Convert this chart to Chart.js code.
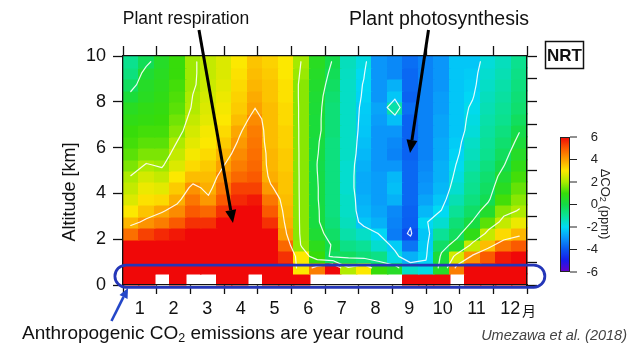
<!DOCTYPE html>
<html>
<head>
<meta charset="utf-8">
<script src="https://cdn.jsdelivr.net/npm/chart.js@4.4.1/dist/chart.umd.min.js"></script>
<style>
html,body{margin:0;padding:0;background:#ffffff;}
#wrap{width:643px;height:345px;position:relative;overflow:hidden;}
canvas{display:block;}
</style>
</head>
<body>
<div id="wrap"><canvas id="c" width="643" height="345"></canvas></div>
<script>
// ---------------- DATA ----------------
const monthLabels = ['1','2','3','4','5','6','7','8','9','10','11','12'];
const periodsPerYear = 26;          // two-week bins across 12 months
const altitudeStepKm = 0.5;         // vertical bin size
const altitudeTicks = [0,1,2,3,4,5,6,7,8,9,10];
const colorbarTicks = [6,4,2,0,-2,-4,-6];
const contourLevels = [-4,-2,0,2,4];

// ΔCO2 (ppm); one row per 0.5 km altitude bin (row 0 = 0-0.5 km surface, null = no data)
const dco2Row00 = [6,6,null,6,null,null,6,6,null,6,6,6,null,null,null,null,null,null,6,6,6,null,6,6,6,6];
const dco2Row01 = [6,6,6,6,6,6,6,6,6,6,6,3.0,4.5,6,2.1,3.0,1.0,0.5,-1.5,-1.8,0.5,4.5,6,6,6,6];
const dco2Row02 = [6,6,6,6,6,6,6,6,6,6,5.5,3.0,1.0,-0.3,-0.3,-0.6,-0.8,-1.8,-2.6,-2.1,0.2,2.5,4.2,5.0,5.8,6];
const dco2Row03 = [6,6,6,6,6,6,6,6,6,6,4.8,1.8,0.7,-0.1,-0.8,-1.0,-1.6,-2.2,-3.5,-2.2,-0.4,0.4,2.3,3.6,4.6,5.0];
const dco2Row04 = [4.7,5.3,5.6,5.8,6,6,6,6,6,6,4.05,1.7,0.3,-0.4,-1.2,-1.5,-2.05,-3.4,-4.15,-2.3,-1.0,-0.3,0.8,2.3,3.2,3.7];
const dco2Row05 = [3.7,4.2,4.5,5.0,5.5,5.5,6,6,6,5.5,3.8,1.7,0.1,-0.6,-1.4,-2.3,-2.6,-3.3,-3.85,-2.05,-1.6,-0.6,0.05,1.3,2.3,2.8];
const dco2Row06 = [3.0,3.5,3.9,4.3,5.0,4.8,5.5,6,6,5.0,3.7,1.7,0.1,-0.7,-1.5,-2.5,-2.8,-3.2,-3.8,-2.5,-1.98,-1.0,-0.4,0.4,1.7,2.05];
const dco2Row07 = [2.6,3.1,3.2,3.8,4.6,4.1,5.0,5.6,5.8,4.6,3.6,1.7,0.05,-0.7,-1.5,-2.6,-2.9,-2.6,-3.7,-2.8,-2.3,-1.3,-0.7,-0.15,1.1,1.7];
const dco2Row08 = [2.3,2.8,2.7,3.4,4.2,3.8,4.6,5.3,5.3,4.1,3.5,1.7,0.05,-0.7,-1.6,-2.7,-2.9,-2.4,-3.7,-3.0,-2.5,-1.6,-0.9,-0.35,0.6,1.4];
const dco2Row09 = [2.02,2.5,2.3,3.0,3.6,3.6,4.3,4.8,5.0,3.8,3.5,1.7,0.02,-0.7,-1.6,-2.7,-2.9,-2.5,-3.7,-3.1,-2.6,-1.8,-1.0,-0.5,0.3,1.1];
const dco2Row10 = [1.6,2.05,1.9,2.6,3.2,3.4,3.98,4.5,4.8,3.7,3.4,1.7,-0.02,-0.7,-1.6,-2.6,-3.0,-3.0,-3.7,-3.2,-2.6,-1.95,-1.2,-0.7,-0.05,0.8];
const dco2Row11 = [1.3,1.6,1.6,2.3,2.9,3.2,3.7,4.3,4.7,3.7,3.4,1.7,0.05,-0.7,-1.5,-2.5,-3.0,-3.3,-3.8,-3.3,-2.7,-2.1,-1.4,-0.9,-0.3,0.5];
const dco2Row12 = [1.1,1.3,1.3,2.02,2.7,3.0,3.4,4.1,4.6,3.6,3.3,1.7,0.1,-0.7,-1.5,-2.4,-3.0,-3.2,-3.8,-3.3,-2.7,-2.2,-1.5,-1.0,-0.5,0.2];
const dco2Row13 = [1.0,1.1,1.1,1.7,2.5,2.9,3.2,3.9,4.5,3.6,3.3,1.7,0.2,-0.6,-1.5,-2.3,-3.0,-3.0,-3.8,-3.3,-2.8,-2.3,-1.7,-1.1,-0.7,-0.05];
const dco2Row14 = [0.8,0.9,1.0,1.5,2.3,2.7,3.0,3.6,4.3,3.6,3.2,1.7,0.2,-0.6,-1.5,-2.25,-2.9,-2.4,-3.8,-3.3,-2.8,-2.3,-1.8,-1.2,-0.9,-0.3];
const dco2Row15 = [0.6,0.8,0.9,1.3,2.1,2.6,2.9,3.4,3.98,3.6,3.2,1.7,0.25,-0.6,-1.5,-2.2,-2.8,-1.2,-3.6,-3.3,-2.9,-2.3,-1.9,-1.3,-1.0,-0.5];
const dco2Row16 = [0.2,0.6,0.8,1.2,2.02,2.5,2.8,3.3,3.85,3.5,3.1,1.7,0.3,-0.5,-1.5,-2.1,-3.0,-2.3,-3.8,-3.3,-2.9,-2.3,-2.05,-1.4,-1.1,-0.6];
const dco2Row17 = [-0.3,0.5,0.7,1.1,1.9,2.4,2.7,3.2,3.7,3.5,3.1,1.7,0.4,-0.35,-1.5,-2.05,-3.0,-2.6,-3.7,-3.3,-3.0,-2.3,-2.15,-1.5,-1.2,-0.7];
const dco2Row18 = [-0.7,0.3,0.6,1.0,1.9,2.3,2.6,3.1,3.6,3.4,3.0,1.85,0.5,-0.2,-1.45,-1.95,-3.0,-3.2,-3.7,-3.3,-3.0,-2.3,-2.2,-1.6,-1.3,-0.8];
const dco2Row19 = [-0.9,-0.2,0.5,1.0,1.9,2.3,2.6,3.0,3.5,3.3,3.0,1.95,0.6,-0.05,-1.4,-1.8,-3.0,-3.2,-3.6,-3.3,-3.0,-2.3,-2.3,-1.7,-1.4,-0.9];

const dco2Rows = [dco2Row00,dco2Row01,dco2Row02,dco2Row03,dco2Row04,dco2Row05,dco2Row06,dco2Row07,dco2Row08,dco2Row09,
                  dco2Row10,dco2Row11,dco2Row12,dco2Row13,dco2Row14,dco2Row15,dco2Row16,dco2Row17,dco2Row18,dco2Row19];

// ---------------- LAYOUT / STYLE ----------------
const FONT = "'Liberation Sans', Arial, Helvetica, sans-serif";
const AREA = {left:123, right:527, top:56, bottom:285};
const periodWidth = 12 / periodsPerYear;

const colorStops = [
  [-6,[105,0,200]],[-5,[25,25,235]],[-4,[10,85,240]],[-3,[10,150,250]],[-2,[0,218,245]],
  [-1,[10,225,150]],[0,[20,220,70]],[1,[55,220,10]],[2,[170,235,0]],[3,[252,232,0]],
  [4,[252,160,0]],[5,[250,90,0]],[6,[240,8,8]]
];
function colorFor(v){
  if (v <= colorStops[0][0]) return 'rgb('+colorStops[0][1].join(',')+')';
  for (let i=1;i<colorStops.length;i++){
    if (v <= colorStops[i][0]){
      const [v0,c0]=colorStops[i-1],[v1,c1]=colorStops[i];
      const t=(v-v0)/(v1-v0);
      return 'rgb('+c0.map((c,k)=>Math.round(c+(c1[k]-c)*t)).join(',')+')';
    }
  }
  return 'rgb('+colorStops[colorStops.length-1][1].join(',')+')';
}

// cells as chart points (cell centres), values attached
const cellPoints = [];
dco2Rows.forEach((row,r)=>row.forEach((v,c)=>{
  if (v !== null) cellPoints.push({x:(c+0.5)*periodWidth, y:(r+0.5)*altitudeStepKm, v:v});
}));

// annotation geometry in data units (month, km)
const arrowRespiration = {from:[2.257,11.135], to:[3.267,2.707]};
const arrowPhotosynthesis = {from:[9.074,11.135], to:[8.525,5.764]};
const surfaceBox = {x0:-0.24, x1:12.53, y0:-0.10, y1:0.87};
const arrowSurface = {from:[-0.342,-1.572], to:[0.149,-0.131]};

function drawArrow(ctx, x0,y0,x1,y1, lw, headLen, headW, color){
  const ang = Math.atan2(y1-y0, x1-x0);
  const bx = x1 - headLen*Math.cos(ang), by = y1 - headLen*Math.sin(ang);
  ctx.save();
  ctx.strokeStyle=color; ctx.fillStyle=color; ctx.lineWidth=lw; ctx.lineCap='butt';
  ctx.beginPath(); ctx.moveTo(x0,y0); ctx.lineTo(bx,by); ctx.stroke();
  ctx.beginPath();
  ctx.moveTo(x1,y1);
  ctx.lineTo(bx + headW/2*Math.sin(ang), by - headW/2*Math.cos(ang));
  ctx.lineTo(bx - headW/2*Math.sin(ang), by + headW/2*Math.cos(ang));
  ctx.closePath(); ctx.fill();
  ctx.restore();
}

function contourSegments(level){
  const segs=[];
  const rows = dco2Rows.length, cols = periodsPerYear;
  const nx = c => (c+0.5)*periodWidth, ny = r => (r+0.5)*altitudeStepKm;
  for (let r=1;r<rows-1;r++){
    for (let c=0;c<cols-1;c++){
      const a=dco2Rows[r][c], b=dco2Rows[r][c+1], cc=dco2Rows[r+1][c+1], d=dco2Rows[r+1][c];
      if ([a,b,cc,d].some(v=>v===null)) continue;
      const pa=[nx(c),ny(r)], pb=[nx(c+1),ny(r)], pc=[nx(c+1),ny(r+1)], pd=[nx(c),ny(r+1)];
      const interp=(p,q,vp,vq)=>{const t=(level-vp)/(vq-vp);return [p[0]+(q[0]-p[0])*t,p[1]+(q[1]-p[1])*t];};
      const sa=a>=level, sb=b>=level, sc=cc>=level, sd=d>=level;
      const e={};
      if (sa!==sb) e.bottom=interp(pa,pb,a,b);
      if (sb!==sc) e.right=interp(pb,pc,b,cc);
      if (sd!==sc) e.top=interp(pd,pc,d,cc);
      if (sa!==sd) e.left=interp(pa,pd,a,d);
      const keys=Object.keys(e);
      if (keys.length===2) segs.push([e[keys[0]],e[keys[1]]]);
      else if (keys.length===4){
        const centre=(a+b+cc+d)/4>=level;
        if (sa!==centre) segs.push([e.bottom,e.left]);
        if (sb!==centre) segs.push([e.bottom,e.right]);
        if (sc!==centre) segs.push([e.right,e.top]);
        if (sd!==centre) segs.push([e.top,e.left]);
      }
    }
  }
  return segs;
}

const heatPlugin = {
  id:'heatmap',
  beforeDraw(chart){
    const ctx=chart.ctx, xs=chart.scales.x, ys=chart.scales.y;
    ctx.save();
    ctx.fillStyle='#ffffff'; ctx.fillRect(0,0,chart.width,chart.height);
    const pts = chart.data.datasets[0].data;
    pts.forEach(p=>{
      const x0=xs.getPixelForValue(p.x-periodWidth/2), x1=xs.getPixelForValue(p.x+periodWidth/2);
      const y0=ys.getPixelForValue(p.y-altitudeStepKm/2), y1=ys.getPixelForValue(p.y+altitudeStepKm/2);
      ctx.fillStyle=colorFor(p.v);
      const L=Math.floor(x0), T=Math.floor(y1);
      ctx.fillRect(L, T, Math.ceil(x1)-L+0.5, Math.ceil(y0)-T+0.5);
    });
    // contour lines
    ctx.strokeStyle='rgba(255,255,255,0.9)';
    ctx.lineWidth=1.2; ctx.lineCap='round';
    contourLevels.forEach(level=>{
      ctx.beginPath();
      contourSegments(level).forEach(s=>{
        ctx.moveTo(xs.getPixelForValue(s[0][0]), ys.getPixelForValue(s[0][1]));
        ctx.lineTo(xs.getPixelForValue(s[1][0]), ys.getPixelForValue(s[1][1]));
      });
      ctx.stroke();
    });
    ctx.restore();
  },
  afterDraw(chart){
    const ctx=chart.ctx, xs=chart.scales.x, ys=chart.scales.y;
    const X=v=>xs.getPixelForValue(v), Y=v=>ys.getPixelForValue(v);
    ctx.save();
    // surface box
    const bx0=X(surfaceBox.x0), bx1=X(surfaceBox.x1), by0=Y(surfaceBox.y1), by1=Y(surfaceBox.y0);
    const rad=(by1-by0)/2;
    ctx.strokeStyle='#2436b8'; ctx.lineWidth=2.8;
    ctx.beginPath();
    ctx.moveTo(bx0+rad,by0); ctx.lineTo(bx1-rad,by0);
    ctx.arc(bx1-rad,by0+rad,rad,-Math.PI/2,Math.PI/2);
    ctx.lineTo(bx0+rad,by1);
    ctx.arc(bx0+rad,by0+rad,rad,Math.PI/2,Math.PI*1.5);
    ctx.closePath(); ctx.stroke();
    // arrows
    drawArrow(ctx, X(arrowRespiration.from[0]),Y(arrowRespiration.from[1]),X(arrowRespiration.to[0]),Y(arrowRespiration.to[1]),3,13,11,'#000');
    drawArrow(ctx, X(arrowPhotosynthesis.from[0]),Y(arrowPhotosynthesis.from[1]),X(arrowPhotosynthesis.to[0]),Y(arrowPhotosynthesis.to[1]),3,13,11,'#000');
    drawArrow(ctx, X(arrowSurface.from[0]),Y(arrowSurface.from[1]),X(arrowSurface.to[0]),Y(arrowSurface.to[1]),2.6,10,9,'#2447c8');

    // texts
    ctx.fillStyle='#111'; ctx.textBaseline='alphabetic'; ctx.textAlign='center';
    ctx.font='17.5px '+FONT; ctx.fillText('Plant respiration',186,24);
    ctx.font='19.5px '+FONT; ctx.fillText('Plant photosynthesis',439,25);

    // y title
    ctx.save(); ctx.translate(75,192); ctx.rotate(-Math.PI/2);
    ctx.font='18px '+FONT; ctx.textAlign='center'; ctx.textBaseline='alphabetic';
    ctx.fillText('Altitude [km]',0,0); ctx.restore();

    // month suffix
    ctx.font="14px 'Noto Sans CJK JP', sans-serif"; ctx.textAlign='left'; ctx.textBaseline='middle';
    ctx.fillText('月',522,311);

    // bottom caption with subscript
    ctx.textAlign='left'; ctx.textBaseline='alphabetic';
    let tx=22; const ty=339;
    ctx.font='19px '+FONT; ctx.fillText('Anthropogenic CO',tx,ty); tx+=ctx.measureText('Anthropogenic CO').width;
    ctx.font='12.5px '+FONT; ctx.fillText('2',tx,ty+3); tx+=ctx.measureText('2').width;
    ctx.font='19px '+FONT; ctx.fillText(' emissions are year round',tx,ty);

    ctx.fillStyle='#444'; ctx.font='italic 14.5px '+FONT; ctx.textAlign='right';
    ctx.fillText('Umezawa et al. (2018)',627,340);

    // NRT box
    ctx.strokeStyle='#111'; ctx.lineWidth=1.5; ctx.strokeRect(545.5,41.5,38,27);
    ctx.fillStyle='#111'; ctx.font='bold 17px '+FONT; ctx.textAlign='center'; ctx.textBaseline='middle';
    ctx.fillText('NRT',564.5,56);

    // colour bar
    const cbx=560, cbw=10, cbt=137, cbb=272;
    const grad=ctx.createLinearGradient(0,cbt,0,cbb);
    for (let i=0;i<=48;i++){ const v=6-12*i/48; grad.addColorStop(i/48,colorFor(v)); }
    ctx.fillStyle=grad; ctx.fillRect(cbx,cbt,cbw,cbb-cbt);
    ctx.strokeStyle='#222'; ctx.lineWidth=1; ctx.strokeRect(cbx+0.5,cbt+0.5,cbw-1,cbb-cbt-1);
    ctx.font='13px '+FONT; ctx.fillStyle='#222'; ctx.textAlign='right'; ctx.textBaseline='middle';
    colorbarTicks.forEach(t=>{
      const y=cbt+(6-t)/12*(cbb-cbt);
      ctx.beginPath(); ctx.moveTo(cbx+cbw,y); ctx.lineTo(cbx+cbw+7,y); ctx.stroke();
      ctx.fillText(String(t),598,y);
    });
    ctx.save(); ctx.translate(605,204); ctx.rotate(Math.PI/2);
    ctx.textBaseline='middle'; ctx.textAlign='left';
    const parts=[['ΔCO',13,0],['2',9,2.5],[' (ppm)',13,0]];
    let w=0; parts.forEach(p=>{ctx.font=p[1]+'px '+FONT; w+=ctx.measureText(p[0]).width;});
    let px=-w/2;
    parts.forEach(p=>{ctx.font=p[1]+'px '+FONT; ctx.fillText(p[0],px,p[2]); px+=ctx.measureText(p[0]).width;});
    ctx.restore();

    ctx.restore();
  }
};

const halfTicks = Array.from({length:25},(_,i)=>({value:i*0.5}));
const monthTicks = Array.from({length:13},(_,i)=>({value:i}));
const kmTicks = altitudeTicks.map(v=>({value:v}));
const isMonthEdge = v => Math.abs(v-Math.round(v))<1e-6;

new Chart(document.getElementById('c'), {
  type:'scatter',
  data:{datasets:[{label:'ΔCO2', data:cellPoints, pointRadius:0, pointHoverRadius:0, showLine:false}]},
  options:{
    responsive:false, animation:false, devicePixelRatio:1, events:[],
    layout:{padding:0},
    plugins:{legend:{display:false}, tooltip:{enabled:false}},
    scales:{
      x:{type:'linear', position:'bottom', min:0, max:12,
         afterBuildTicks:s=>{s.ticks=halfTicks.map(t=>({value:t.value}));},
         afterFit:s=>{s.height=345-AREA.bottom;},
         ticks:{autoSkip:false, maxRotation:0, minRotation:0, padding:4, color:'#111',
                font:{family:FONT,size:18},
                callback:v=>isMonthEdge(v)?'':monthLabels[Math.floor(v)]},
         grid:{drawOnChartArea:false, drawTicks:true, tickLength:9, tickWidth:1.3,
               tickColor:c=>isMonthEdge(c.tick.value)?'#111':'rgba(0,0,0,0)'},
         border:{display:true,color:'#111',width:1.3}},
      x2:{type:'linear', position:'top', min:0, max:12,
         afterBuildTicks:s=>{s.ticks=monthTicks.map(t=>({value:t.value}));},
         afterFit:s=>{s.height=AREA.top;},
         ticks:{display:false},
         grid:{drawOnChartArea:false, drawTicks:true, tickLength:10, tickWidth:1.3, tickColor:'#111'},
         border:{display:true,color:'#111',width:1.3}},
      y:{type:'linear', position:'left', min:0, max:10,
         afterBuildTicks:s=>{s.ticks=kmTicks.map(t=>({value:t.value}));},
         afterFit:s=>{s.width=AREA.left;},
         ticks:{padding:7, color:'#111', font:{family:FONT,size:18},
                callback:v=>(v%2===0)?String(v):''},
         grid:{drawOnChartArea:false, drawTicks:true, tickLength:10, tickWidth:1.3, tickColor:'#111'},
         border:{display:true,color:'#111',width:1.3}},
      y2:{type:'linear', position:'right', min:0, max:10,
         afterBuildTicks:s=>{s.ticks=kmTicks.map(t=>({value:t.value}));},
         afterFit:s=>{s.width=643-AREA.right;},
         ticks:{display:false},
         grid:{drawOnChartArea:false, drawTicks:true, tickLength:10, tickWidth:1.3, tickColor:'#111'},
         border:{display:true,color:'#111',width:1.3}}
    }
  },
  plugins:[heatPlugin]
});
</script>
</body>
</html>
